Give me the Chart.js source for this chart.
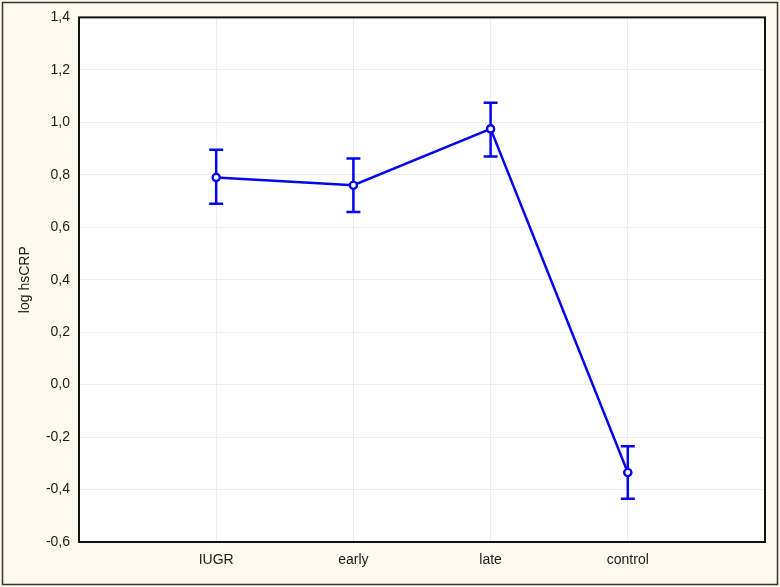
<!DOCTYPE html>
<html>
<head>
<meta charset="utf-8">
<script src="https://cdn.jsdelivr.net/npm/chart.js@4.4.0/dist/chart.umd.min.js"></script>
<style>
    body { margin: 0; background: #fdf9ef; }
    #wrap { width: 780px; height: 587px; position: relative; }
</style>
</head>
<body>
<div id="wrap"><canvas id="chart"></canvas></div>
<script>
// групи та середні значення
const categories = ['IUGR', 'early', 'late', 'control'];
const means = [0.79, 0.76, 0.975, -0.335];
const lower = [0.69, 0.658, 0.87, -0.435];
const upper = [0.895, 0.862, 1.075, -0.235];
const yTicks = [-0.6, -0.4, -0.2, 0.0, 0.2, 0.4, 0.6, 0.8, 1.0, 1.2, 1.4];

const blue = '#0505ee';
const font = { family: 'Liberation Sans', size: 14 };

// фон, рамки та "вуса" похибок
const decorPlugin = {
    id: 'decor',
    beforeDraw(chart) {
        const ctx = chart.ctx;
        const a = chart.chartArea;
        ctx.save();
        ctx.fillStyle = '#fdf9ef';
        ctx.fillRect(0, 0, chart.width, chart.height);
        ctx.strokeStyle = '#333';
        ctx.lineWidth = 1.5;
        ctx.strokeRect(2.5, 2.5, chart.width - 5, chart.height - 5);
        ctx.fillStyle = '#ffffff';
        ctx.fillRect(a.left, a.top, a.right - a.left, a.bottom - a.top);
        ctx.restore();
    },
    afterDatasetsDraw(chart) {
        const ctx = chart.ctx;
        const xs = chart.scales.x;
        const ys = chart.scales.y;
        ctx.save();
        ctx.strokeStyle = blue;
        ctx.lineWidth = 2.5;
        categories.forEach((c, i) => {
            const x = xs.getPixelForValue(i + 1);
            const y1 = ys.getPixelForValue(lower[i]);
            const y2 = ys.getPixelForValue(upper[i]);
            ctx.beginPath();
            ctx.moveTo(x, y1); ctx.lineTo(x, y2);
            ctx.moveTo(x - 7, y1); ctx.lineTo(x + 7, y1);
            ctx.moveTo(x - 7, y2); ctx.lineTo(x + 7, y2);
            ctx.stroke();
        });
        // перемалювати точки поверх вусів
        const meta = chart.getDatasetMeta(0);
        meta.data.forEach(p => p.draw(ctx, chart.chartArea));
        ctx.restore();
    },
    afterDraw(chart) {
        const ctx = chart.ctx;
        const a = chart.chartArea;
        ctx.save();
        ctx.strokeStyle = '#111';
        ctx.lineWidth = 2;
        ctx.strokeRect(a.left, a.top, a.right - a.left, a.bottom - a.top);
        ctx.restore();
    }
};

const ctx = document.getElementById('chart').getContext('2d');
const chart = new Chart(ctx, {
    type: 'line',
    data: {
        datasets: [{
            data: means.map((v, i) => ({x: i + 1, y: v})),
            borderColor: blue,
            borderWidth: 2.5,
            pointRadius: 3.5,
            pointBorderWidth: 2.2,
            pointBackgroundColor: '#ffffff',
            pointBorderColor: blue,
            tension: 0
        }]
    },
    options: {
        responsive: true,
        maintainAspectRatio: false,
        animation: false,
        devicePixelRatio: 1,
        layout: { padding: { top: 17, right: 15, left: 0, bottom: 0 } },
        plugins: {
            legend: { display: false },
            tooltip: { enabled: false }
        },
        scales: {
            x: {
                type: 'linear',
                min: 0,
                max: 5,
                afterBuildTicks(scale) {
                    scale.ticks = categories.map((c, i) => ({value: i + 1}));
                },
                afterFit(scale) { scale.height = 45; },
                ticks: {
                    callback: (v) => categories[v - 1] || '',
                    color: '#1a1a1a',
                    font: font,
                    padding: 10,
                    maxRotation: 0
                },
                grid: { color: '#ececf2', drawTicks: false },
                border: { display: false }
            },
            y: {
                min: -0.6,
                max: 1.4,
                afterBuildTicks(scale) {
                    scale.ticks = yTicks.map(v => ({value: v}));
                },
                afterFit(scale) { scale.width = 79; },
                ticks: {
                    callback: (v) => v.toFixed(1).replace('.', ','),
                    color: '#1a1a1a',
                    font: font,
                    padding: 9
                },
                grid: { color: '#ececf2', drawTicks: false },
                border: { display: false },
                title: {
                    display: true,
                    text: 'log hsCRP',
                    color: '#1a1a1a',
                    font: font,
                    padding: { top: 17, bottom: 0 }
                }
            }
        }
    },
    plugins: [decorPlugin]
});
</script>
</body>
</html>
